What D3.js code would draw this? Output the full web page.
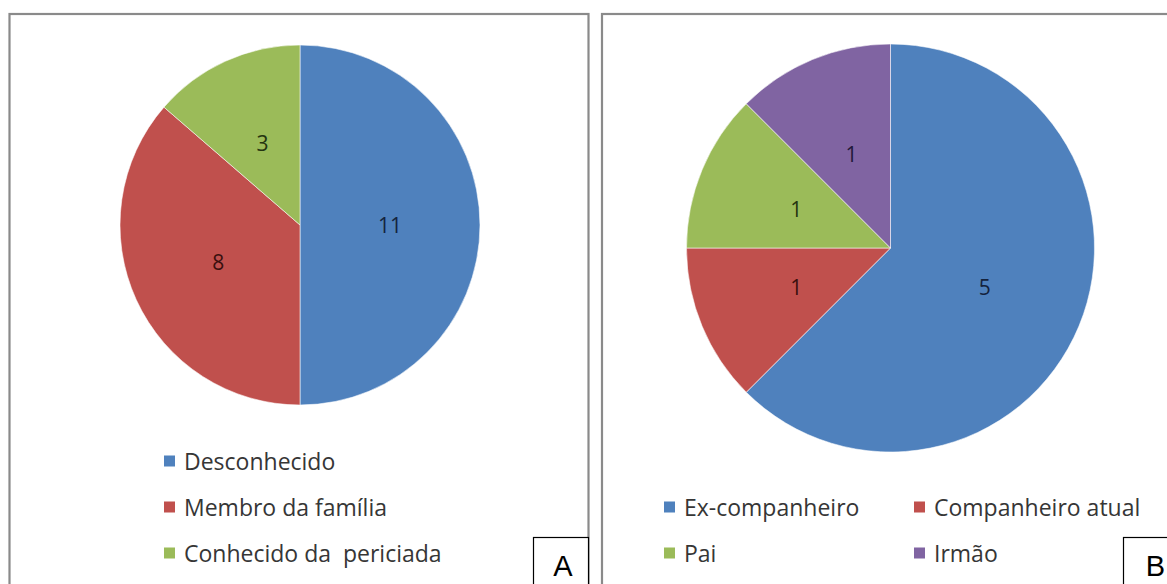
<!DOCTYPE html>
<html><head><meta charset="utf-8">
<script src="https://cdn.jsdelivr.net/npm/d3@7"></script>
<style>html,body{margin:0;padding:0;background:#fff;}svg{display:block;}</style>
</head><body>
<svg id="chart" width="1167" height="584"></svg>
<script>
// Data
const categoriesA = ["Desconhecido", "Membro da família", "Conhecido da  periciada"];
const valuesA = [11, 8, 3];
const categoriesB = ["Ex-companheiro", "Companheiro atual", "Pai", "Irmão"];
const valuesB = [5, 1, 1, 1];
const panelLabels = ["A", "B"];

const colors = ["#4F81BD", "#C0504D", "#9BBB59", "#8064A2"];
const labelColors = ["#14233d", "#3a0f0e", "#243410", "#21183a"];

const svg = d3.select("#chart");
svg.append("rect").attr("width", 1167).attr("height", 584).attr("fill", "#fff");

function panel(x, y, w, h) {
  svg.append("rect").attr("x", x).attr("y", y).attr("width", w).attr("height", h)
    .attr("fill", "#fff").attr("stroke", "#8a8a8a").attr("stroke-width", 2.2);
}
panel(9.5, 14, 579, 600);
panel(602, 14, 600, 600);

const pie = d3.pie().sort(null).value(d => d);

function drawPie(values, cx, cy, r) {
  const g = svg.append("g").attr("transform", `translate(${cx},${cy})`);
  const arcs = pie(values);
  const arc = d3.arc().innerRadius(0).outerRadius(r);
  const labelArc = d3.arc().innerRadius(r / 2).outerRadius(r / 2);
  g.selectAll("path").data(arcs).join("path")
    .attr("d", arc)
    .attr("fill", (d, i) => colors[i])
    .attr("stroke", "rgba(255,255,255,0.55)")
    .attr("stroke-width", 1);
  g.selectAll("text").data(arcs).join("text")
    .attr("transform", d => { const c = labelArc.centroid(d); return `translate(${c[0]},${c[1]})`; })
    .attr("text-anchor", "middle")
    .attr("dominant-baseline", "central")
    .attr("font-family", "'Open Sans', sans-serif")
    .attr("font-size", 21)
    .attr("fill", (d, i) => labelColors[i])
    .text(d => d.data);
}
drawPie(valuesA, 300, 225, 180);
drawPie(valuesB, 890.5, 248, 204);

function legend(items, positions) {
  const g = svg.append("g");
  items.forEach((name, i) => {
    const [x, y] = positions[i];
    g.append("rect").attr("x", x).attr("y", y - 5.5).attr("width", 11).attr("height", 11).attr("fill", colors[i]);
    g.append("text").attr("x", x + 20).attr("y", y)
      .attr("dominant-baseline", "central")
      .attr("font-family", "'Open Sans', sans-serif")
      .attr("font-size", 23)
      .attr("fill", "#363636")
      .attr("xml:space", "preserve")
      .style("white-space", "pre")
      .text(name);
  });
}
legend(categoriesA, [[164, 461], [164, 507], [164, 553]]);
legend(categoriesB, [[664, 507], [914, 507], [664, 553], [914, 553]]);

function labelBox(text, x, y, w, h) {
  svg.append("rect").attr("x", x).attr("y", y).attr("width", w).attr("height", h)
    .attr("fill", "#fff").attr("stroke", "#000").attr("stroke-width", 1.2);
  svg.append("text").attr("x", x + w / 2 + 2).attr("y", y + 38)
    .attr("text-anchor", "middle")
    .attr("font-family", "'Liberation Sans', Arial, sans-serif")
    .attr("font-size", 29)
    .attr("fill", "#000")
    .text(text);
}
labelBox(panelLabels[0], 533.5, 537.5, 55, 60);
labelBox(panelLabels[1], 1123.5, 537.5, 60, 60);
</script>
</body></html>
